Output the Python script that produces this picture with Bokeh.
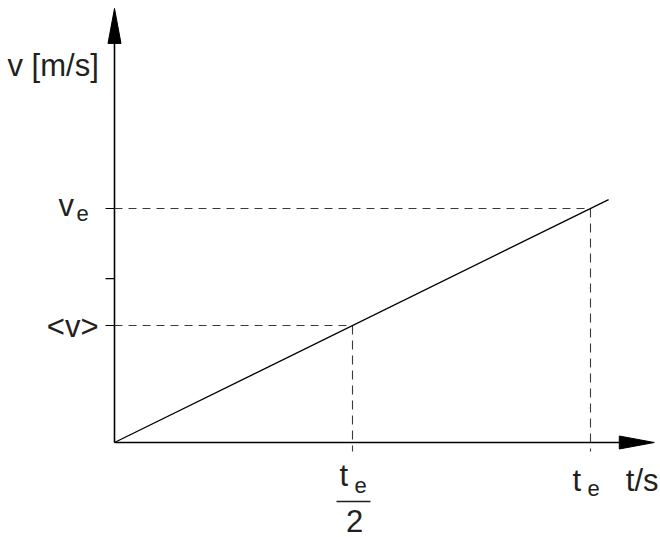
from bokeh.plotting import figure
from bokeh.models import Range1d
from bokeh.core.properties import value
from bokeh.embed import file_html
from bokeh.resources import INLINE

# ---- data (units: t in t_e, v in v_e) ----
T_E = 1.0
V_E = 1.0
t_line = [0.0, 1.038]
v_line = [0.0, 1.038]
V_MEAN = 0.5 * V_E
T_HALF = 0.5 * T_E
y_tick_values = [0.5, 0.7, 1.0]
X_AXIS_END = 1.134
Y_AXIS_END = 1.855

# ---- layout scale (picture pixels) ----
W, H = 660, 537
OX, OY = 114, 442          # origin inside figure (px)
SX, SY = 476.0, 234.0      # px per unit
TDY = 10                   # text baseline correction (px)

def px(xp):   # picture x -> data
    return (xp - OX) / SX

def py(yp):   # picture y -> data
    return (OY - yp) / SY

def ty(yp):   # text baseline -> data
    return py(yp - TDY)

p = figure(width=W, height=H, output_backend="svg", toolbar_location=None,
           x_range=Range1d(-OX / SX, (W - OX) / SX),
           y_range=Range1d(-(H - OY) / SY, OY / SY),
           x_axis_type=None, y_axis_type=None, min_border=0, title=None)
p.grid.visible = False
p.outline_line_color = None
p.background_fill_color = "white"
p.border_fill_color = "white"

AX = "#000000"
TXT = "#231f20"
DASH = "#3a3a3a"
FONT = value("Liberation Sans")

# axes lines
xa_base = X_AXIS_END - 35 / SX
ya_base = Y_AXIS_END - 35 / SY
p.segment(x0=[0, 0], y0=[0, 0], x1=[xa_base, 0], y1=[0, ya_base], line_color=AX, line_width=1.6)
# arrow heads
hw_x = 6.5 / SX
hw_y = 6.5 / SY
p.patches(xs=[[0, -hw_x, hw_x], [X_AXIS_END, xa_base, xa_base]],
          ys=[[Y_AXIS_END, ya_base, ya_base], [0, hw_y, -hw_y]],
          fill_color=AX, line_color=AX, line_width=1)

# y ticks
tick_len = 9 / SX
p.segment(x0=[-tick_len] * len(y_tick_values), y0=y_tick_values,
          x1=[0] * len(y_tick_values), y1=y_tick_values, line_color=AX, line_width=1.2)

# dashed helper lines
below = 9 / SY
p.segment(x0=[0, 0], y0=[V_E, V_MEAN], x1=[T_E, T_HALF], y1=[V_E, V_MEAN],
          line_color=DASH, line_width=1.1, line_dash="8 6")
p.segment(x0=[T_E, T_HALF], y0=[V_E, V_MEAN], x1=[T_E, T_HALF], y1=[-below, -below],
          line_color=DASH, line_width=1.1, line_dash="9 6")

# data line
p.line(x=t_line, y=v_line, line_color=AX, line_width=1.3)

# fraction bar
p.segment(x0=[px(336)], y0=[py(501)], x1=[px(370)], y1=[py(501)], line_color=TXT, line_width=1.6)

big = "31px"
small = "22px"
p.text(x=[px(7), px(58), px(339), px(572)],
       y=[ty(75), ty(215), ty(485), ty(490)],
       text=["v [m/s]", "v", "t", "t"],
       text_font=FONT, text_font_size=big, text_color=TXT,
       text_align="left", text_baseline="alphabetic")
p.text(x=[px(98)], y=[ty(336)], text=["<v>"],
       text_font=FONT, text_font_size=big, text_color=TXT,
       text_align="right", text_baseline="alphabetic")
p.text(x=[px(658)], y=[ty(490)], text=["t/s"],
       text_font=FONT, text_font_size=big, text_color=TXT,
       text_align="right", text_baseline="alphabetic")
p.text(x=[px(354)], y=[ty(530)], text=["2"],
       text_font=FONT, text_font_size=big, text_color=TXT,
       text_align="center", text_baseline="alphabetic")
p.text(x=[px(76), px(354), px(587)],
       y=[ty(223), ty(495), ty(498)],
       text=["e", "e", "e"],
       text_font=FONT, text_font_size=small, text_color=TXT,
       text_align="left", text_baseline="alphabetic")

open("out.html", "w").write(file_html(p, INLINE))
